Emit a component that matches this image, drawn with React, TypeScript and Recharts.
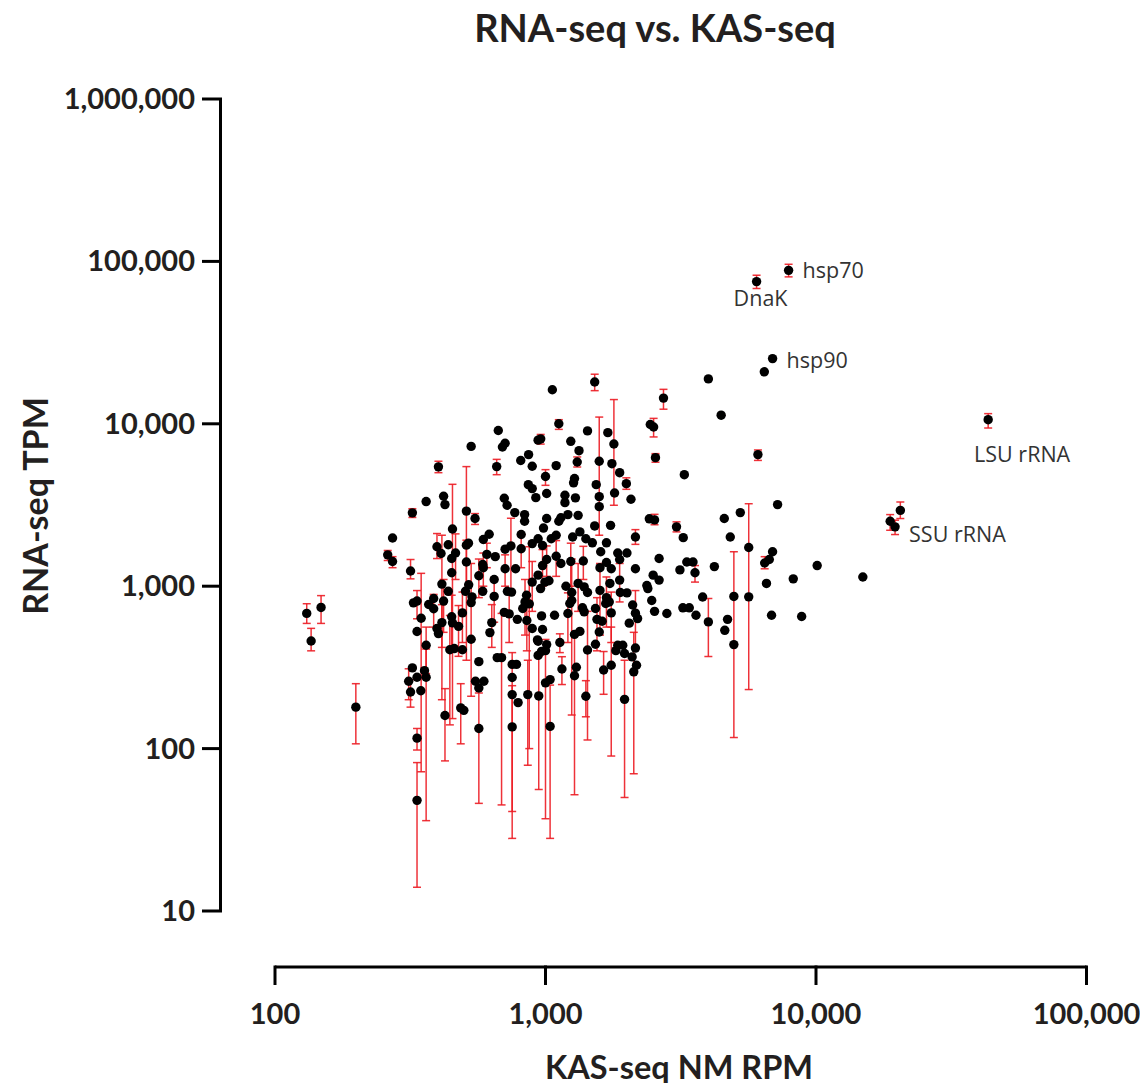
import { ScatterChart, Scatter, XAxis, YAxis, ErrorBar, ReferenceLine } from "recharts"

// [KAS-seq NM RPM, RNA-seq TPM, lower bound, upper bound]
type Row = [number, number, number?, number?]

const KAS_100_400: Row[] = [
  [131, 680, 590, 780], [136, 460, 400, 550], [148, 740, 590, 875], [199, 180, 107, 251],
  [261, 1560, 1440, 1660], [272, 1980], [272, 1420, 1300, 1520], [312, 260, 200, 310],
  [317, 1240, 1110, 1460], [317, 223, 180, 266], [322, 2830, 2650, 3000], [322, 314],
  [325, 790], [335, 810, 630, 940], [335, 526], [335, 275], [335, 116, 98, 133],
  [335, 48, 14, 82], [346, 227], [347, 635, 72, 1200], [357, 302], [362, 3320],
  [362, 433, 290, 560], [362, 275, 36, 410], [370, 772], [386, 840], [386, 726, 560, 890],
  [397, 1750, 1480, 2110], [397, 549],
]

const KAS_400_1000: Row[] = [
  [402, 5430, 5000, 5880], [402, 511], [411, 1590], [414, 1030, 200, 2060], [414, 597, 420, 770],
  [420, 3580], [420, 810, 520, 1100], [425, 3180], [425, 160, 84, 234], [437, 1800], [437, 930],
  [443, 406, 140, 660], [450, 1480], [450, 1210], [450, 648, 420, 880], [453, 2250, 153, 4240],
  [453, 595], [460, 413], [465, 1600, 1100, 2100], [477, 566, 370, 760], [486, 178, 107, 251],
  [493, 685, 450, 920], [493, 406], [499, 172], [506, 930], [510, 2900, 350, 5450], [510, 1790],
  [510, 1410, 900, 1920], [519, 1840], [520, 1020], [531, 7260], [531, 793, 210, 1380],
  [531, 471], [535, 860], [549, 2610, 2400, 2800], [551, 260], [567, 1160, 850, 1470],
  [567, 343], [567, 236], [567, 133, 46, 220], [586, 1360], [586, 930], [589, 1940],
  [589, 1300, 1000, 1600], [592, 260], [607, 1570, 1300, 1840], [619, 2090], [623, 518],
  [633, 597, 420, 770], [646, 1100], [646, 865, 600, 1130], [652, 1520],
  [660, 5450, 4860, 6040], [663, 363], [669, 9100], [688, 363, 45, 680], [693, 7200],
  [704, 3480], [704, 690], [709, 7590], [709, 1690], [709, 1280, 1000, 1560], [721, 3150],
  [723, 930], [734, 675, 450, 900], [745, 1770, 920, 2620], [749, 920], [753, 330], [753, 274],
  [753, 215, 41, 390], [753, 136, 28, 244], [770, 2840], [775, 1280], [781, 330], [787, 625],
  [792, 192], [810, 5940], [813, 2080], [813, 1700, 1300, 2100], [824, 729], [837, 2760],
  [837, 2510], [840, 800, 500, 1100], [851, 880], [853, 615, 400, 830], [860, 215, 79, 350],
  [864, 4220], [866, 6460], [871, 778, 100, 1750], [893, 5480], [893, 3990], [893, 1830],
  [893, 1060, 700, 1420], [893, 549], [921, 3510], [934, 467], [939, 7930], [939, 1960],
  [939, 1170], [939, 458], [939, 375], [944, 211, 56, 370], [959, 967],
  [960, 8080, 7500, 8600], [967, 656], [967, 397], [975, 1780], [975, 1340, 1000, 1680],
  [975, 541], [983, 2280], [995, 1060],
]

const KAS_1000_3000: Row[] = [
  [1000, 4740, 4180, 5220], [1000, 401], [1000, 254, 37, 470], [1010, 3720], [1010, 2610],
  [1010, 1460, 1150, 1770], [1010, 437], [1030, 1080], [1040, 266], [1040, 137, 28, 246],
  [1050, 1960], [1060, 16200], [1080, 662], [1095, 5530], [1095, 2060],
  [1095, 1530, 1150, 1910], [1120, 10000, 9240, 10600], [1120, 2510], [1130, 450, 390, 509],
  [1140, 2640], [1140, 1380], [1150, 309, 248, 368], [1180, 3630], [1180, 3270], [1190, 1000],
  [1210, 2760], [1210, 679, 450, 910], [1230, 782], [1240, 7800], [1240, 1420, 1000, 1840],
  [1250, 914], [1250, 817, 161, 1470], [1260, 2010], [1270, 4330], [1280, 4600], [1280, 505],
  [1280, 281, 52, 510], [1290, 3500], [1300, 317], [1310, 5820, 5420, 6250], [1320, 2730],
  [1320, 1040, 700, 1380], [1330, 6830], [1340, 2160], [1340, 527], [1370, 736],
  [1380, 1430, 1100, 1760], [1390, 990], [1390, 695], [1410, 1960], [1410, 210, 157, 262],
  [1430, 9040], [1430, 914], [1430, 405, 113, 700], [1490, 1850], [1520, 18100, 16000, 20200],
  [1520, 2350], [1530, 729], [1530, 439], [1540, 4220], [1550, 625, 400, 850],
  [1580, 5880, 2060, 11000], [1580, 3560], [1580, 3090], [1580, 522], [1590, 1300],
  [1590, 942, 500, 1380], [1600, 1630], [1620, 608], [1640, 305, 216, 396], [1670, 782],
  [1680, 1850], [1680, 1400], [1680, 850, 560, 1140], [1700, 8820], [1720, 800], [1730, 1040],
  [1740, 2370], [1750, 1280], [1750, 685, 450, 920], [1750, 326, 90, 560], [1760, 5680],
  [1790, 7510, 3150, 14100], [1800, 3750], [1820, 401], [1850, 1600], [1850, 433],
  [1880, 5000], [1880, 1460], [1880, 1090, 800, 1380], [1890, 914], [1930, 433], [1960, 385],
  [1960, 201, 50, 350], [1990, 4280, 3950, 4650], [2000, 1600], [2000, 910], [2040, 592],
  [2070, 3430], [2090, 367], [2100, 766], [2120, 297, 70, 520], [2150, 2010, 1810, 2230],
  [2150, 1280], [2150, 682, 420, 940], [2150, 416], [2170, 326], [2190, 632], [2370, 1010],
  [2390, 967], [2420, 2600], [2440, 9900], [2470, 817], [2500, 1170],
  [2510, 9550, 8300, 10800], [2530, 2560, 2390, 2770], [2530, 700], [2550, 6190, 5800, 6550],
  [2630, 1480], [2630, 1090], [2730, 14400, 12300, 16300], [2810, 679],
]

const KAS_3000_UP: Row[] = [
  [3050, 2320, 2160, 2490], [3140, 1260], [3220, 736], [3230, 1990], [3260, 4860],
  [3330, 1410], [3400, 736], [3510, 1410], [3570, 1210, 1060, 1340], [3600, 662],
  [3810, 858], [4000, 18900], [4000, 603, 369, 840], [4210, 1320], [4460, 11300],
  [4580, 2610], [4600, 535], [4710, 625], [4820, 2010], [4970, 865, 117, 1630], [4970, 437],
  [5250, 2840], [5640, 1730, 231, 3220], [5640, 860], [6100, 6460, 5950, 6900], [6440, 20900],
  [6460, 1390, 1280, 1520], [6560, 1040], [6720, 1460], [6850, 662], [6910, 1630],
  [7210, 3180], [8240, 1110], [8850, 651], [10100, 1340], [14900, 1140],
  [18800, 2510, 2210, 2760], [20500, 2930, 2610, 3300],
]

const GENE_NAMES = ["hsp70", "DnaK", "hsp90", "LSU rRNA", "SSU rRNA"]
const GENE_POINTS: Row[] = [
  [7920, 88100, 80300, 96000],
  [6030, 75100, 68100, 82200],
  [6910, 25200],
  [43300, 10600, 9420, 11550],
  [19600, 2320, 2080, 2550],
]

const X_TICKS = [100, 1000, 10000, 100000]
const Y_TICKS = [10, 100, 1000, 10000, 100000, 1000000]

// label placement relative to the dot (text baseline)
const LABEL_POS: Record<string, { dx: number; dy: number; anchor: "start" | "middle" }> = {
  hsp70: { dx: 14, dy: 8, anchor: "start" },
  DnaK: { dx: 4, dy: 24, anchor: "middle" },
  hsp90: { dx: 14, dy: 9, anchor: "start" },
  "LSU rRNA": { dx: 34, dy: 42, anchor: "middle" },
  "SSU rRNA": { dx: 14, dy: 15, anchor: "start" },
}

const W = 1132
const H = 1075
const PLOT = { left: 267, top: 91, right: 1078.5, bottom: 903 }
const Y_GAP = 54.5 // y axis line sits left of the plot (Prism style)
const X_GAP = 56
const FONT = "Lato, 'Open Sans', sans-serif"
const INK = "#231f20"

const pxPerDecX = (PLOT.right - PLOT.left) / 3
const pxPerDecY = (PLOT.bottom - PLOT.top) / 5
const yAxisKas = X_TICKS[0] * 10 ** (-Y_GAP / pxPerDecX)
const xAxisTpm = Y_TICKS[0] * 10 ** (-X_GAP / pxPerDecY)

const toPoint = ([kas, tpm, lo, hi]: Row) => ({
  kas,
  tpm,
  err: [lo === undefined ? 0 : tpm - lo, hi === undefined ? 0 : hi - tpm],
})

const data = [...KAS_100_400, ...KAS_400_1000, ...KAS_1000_3000, ...KAS_3000_UP, ...GENE_POINTS].map(toPoint)
const labelData = GENE_POINTS.map((r, i) => ({ ...toPoint(r), name: GENE_NAMES[i] }))

const fmt = (v: number) => v.toLocaleString("en-US")

function YTick(props: any) {
  const { x, y, payload } = props
  return (
    <g>
      <line x1={x - 73} x2={x - Y_GAP + 1.5} y1={y} y2={y} stroke="#000" strokeWidth={3} />
      <text x={x - 80} y={y + 10} textAnchor="end" fontFamily={FONT} fontWeight={700} fontSize={29} fill={INK}>
        {fmt(payload.value)}
      </text>
    </g>
  )
}

function XTick(props: any) {
  const { x, y, payload } = props
  return (
    <g>
      <line x1={x} x2={x} y1={y + X_GAP - 1.5} y2={y + 74} stroke="#000" strokeWidth={3} />
      <text x={x} y={y + 113} textAnchor="middle" fontFamily={FONT} fontWeight={700} fontSize={29} fill={INK}>
        {fmt(payload.value)}
      </text>
    </g>
  )
}

function Dot(props: any) {
  return <circle cx={props.cx} cy={props.cy} r={4.7} fill="#000" />
}

function GeneLabel(props: any) {
  const { cx, cy, payload } = props
  const p = LABEL_POS[payload.name]
  return (
    <text x={cx + p.dx} y={cy + p.dy} textAnchor={p.anchor} fontFamily="'Open Sans', sans-serif" fontSize={21.5} fill="#333">
      {payload.name}
    </text>
  )
}

export default function App() {
  return (
    <div style={{ position: "relative", width: W, height: H }}>
      <ScatterChart
        width={W}
        height={H}
        margin={{ top: PLOT.top, right: W - PLOT.right, bottom: 0, left: 0 }}
      >
        <XAxis
          type="number"
          dataKey="kas"
          scale="log"
          domain={[100, 100000]}
          ticks={X_TICKS}
          interval={0}
          allowDataOverflow
          axisLine={false}
          tickLine={false}
          tickSize={0}
          tickMargin={0}
          height={H - PLOT.bottom}
          tick={<XTick />}
        />
        <YAxis
          type="number"
          dataKey="tpm"
          scale="log"
          domain={[10, 1000000]}
          ticks={Y_TICKS}
          interval={0}
          allowDataOverflow
          axisLine={false}
          tickLine={false}
          tickSize={0}
          tickMargin={0}
          width={PLOT.left}
          tick={<YTick />}
        />
        <ReferenceLine x={yAxisKas} ifOverflow="visible" stroke="#000" strokeWidth={3} />
        <ReferenceLine y={xAxisTpm} ifOverflow="visible" stroke="#000" strokeWidth={3} />
        <Scatter data={data} shape={<Dot />} isAnimationActive={false}>
          <ErrorBar
            dataKey="err"
            direction="y"
            width={4}
            stroke="#ec1c24"
            strokeWidth={1.5}
            strokeOpacity={0.9}
            isAnimationActive={false}
          />
        </Scatter>
        <Scatter data={labelData} shape={<GeneLabel />} isAnimationActive={false} />
      </ScatterChart>
      <svg
        width={W}
        height={H}
        style={{ position: "absolute", left: 0, top: 0, pointerEvents: "none", overflow: "visible" }}
      >
        <text x={647} y={34} textAnchor="middle" fontFamily={FONT} fontWeight={700} fontSize={38} fill={INK}>
          RNA-seq vs. KAS-seq
        </text>
        <text x={671} y={1071} textAnchor="middle" fontFamily={FONT} fontWeight={700} fontSize={32.5} fill={INK}>
          KAS-seq NM RPM
        </text>
        <text
          transform="translate(40, 498) rotate(-90)"
          textAnchor="middle"
          fontFamily={FONT}
          fontWeight={700}
          fontSize={34}
          fill={INK}
        >
          RNA-seq TPM
        </text>
      </svg>
    </div>
  )
}
